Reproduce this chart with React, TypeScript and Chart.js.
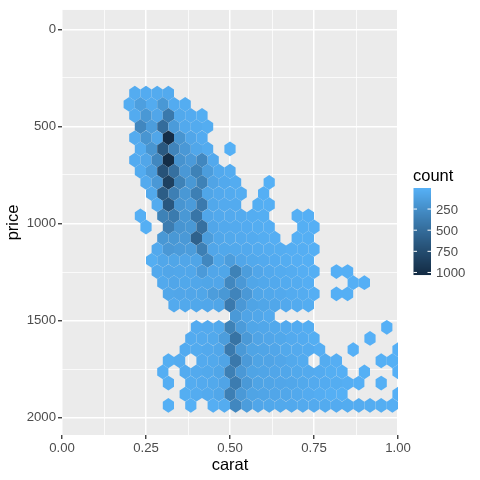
import React, { useEffect, useRef } from "react";
import { Chart, registerables } from "chart.js";

Chart.register(...registerables);

// ---- axis ticks ----
const xMajorTicks = [0, 0.25, 0.5, 0.75, 1];
const xMinorTicks = [0.125, 0.375, 0.625, 0.875];
const yMajorTicks = [0, 500, 1000, 1500, 2000];
const yMinorTicks = [250, 750, 1250, 1750];
const legendTicks = [250, 500, 750, 1000];

// ---- hex bin grid (carat bin width 1/30, rows of price bins) ----
const BIN_W = 1 / 30;
const ROW0_PRICE = 329;
const ROW_STEP = 57.4;

// first half-column index (carat = h/60) of each price row
const rowStart = [13, 12, 13, 14, 13, 14, 13, 14, 15, 16, 17, 14, 15, 18, 17, 16, 17, 18, 19, 20, 31, 24, 23, 22, 19, 18, 19, 22, 19];

// counts per row, one entry per hex column (0 = empty)
const rowCounts: number[][] = [
  [35, 40, 45, 50],
  [30, 126, 45, 180, 40, 30],
  [45, 180, 75, 405, 60, 40, 25],
  [300, 140, 500, 155, 55, 45, 30],
  [45, 200, 75, 1000, 200, 75, 40],
  [45, 200, 650, 320, 175, 70, 45, 0, 10],
  [40, 75, 300, 1010, 210, 160, 300, 55],
  [45, 155, 700, 470, 175, 340, 140, 55, 35],
  [50, 175, 850, 340, 180, 340, 90, 55, 35, 0, 0, 10],
  [60, 620, 360, 180, 360, 80, 55, 45, 30, 0, 15],
  [45, 660, 200, 155, 400, 65, 50, 45, 0, 25, 15],
  [15, 0, 340, 390, 180, 430, 75, 55, 50, 45, 30, 25, 0, 0, 15, 12],
  [15, 0, 380, 200, 180, 470, 75, 55, 50, 40, 30, 22, 0, 0, 18, 12],
  [180, 180, 170, 580, 140, 70, 60, 50, 45, 30, 22, 0, 18, 18],
  [55, 175, 155, 140, 360, 75, 65, 60, 55, 45, 35, 30, 22, 20, 15],
  [25, 70, 80, 75, 85, 300, 80, 140, 75, 60, 50, 40, 30, 22, 15],
  [55, 75, 70, 70, 160, 75, 80, 340, 140, 75, 55, 45, 35, 22, 15, 0, 12, 12],
  [55, 75, 65, 70, 80, 75, 300, 175, 80, 65, 55, 45, 35, 20, 0, 0, 0, 12, 12],
  [70, 75, 75, 80, 140, 180, 320, 175, 80, 65, 55, 45, 35, 22, 0, 12, 15],
  [50, 60, 65, 70, 80, 400, 175, 95, 80, 70, 55, 45, 30],
  [170, 90, 70, 50],
  [40, 50, 60, 340, 155, 80, 70, 60, 50, 40, 30, 0, 0, 0, 0, 0, 0, 8],
  [40, 50, 60, 140, 450, 170, 90, 75, 65, 50, 40, 25, 0, 0, 0, 0, 8],
  [40, 45, 55, 70, 400, 170, 95, 85, 75, 60, 50, 40, 20, 0, 0, 8, 0, 0, 0, 8],
  [25, 35, 0, 50, 60, 90, 410, 160, 95, 90, 75, 60, 45, 0, 35, 20, 0, 0, 0, 10, 10],
  [20, 0, 40, 50, 60, 80, 360, 175, 95, 85, 75, 70, 60, 50, 40, 25, 15, 0, 10, 0, 0, 8],
  [20, 0, 35, 50, 60, 90, 380, 170, 95, 85, 75, 70, 60, 50, 40, 30, 20, 12, 0, 10],
  [25, 35, 50, 70, 360, 170, 95, 85, 75, 70, 55, 40, 28, 18, 10, 0, 0, 0, 0, 8],
  [10, 0, 10, 0, 20, 35, 300, 140, 75, 65, 60, 55, 50, 48, 45, 40, 38, 35, 30, 25, 22],
];

const COUNT_MIN = 1;
const COUNT_MAX = 1030;
const LOW_COL = "#56B1F7";
const HIGH_COL = "#132B43";

// ---- colour (Lab interpolation like ggplot) ----
function hexToRgb(h: string): number[] {
  return [parseInt(h.slice(1, 3), 16), parseInt(h.slice(3, 5), 16), parseInt(h.slice(5, 7), 16)];
}
function toLin(c: number) {
  c /= 255;
  return c <= 0.04045 ? c / 12.92 : Math.pow((c + 0.055) / 1.055, 2.4);
}
function fromLin(c: number) {
  const v = c <= 0.0031308 ? 12.92 * c : 1.055 * Math.pow(c, 1 / 2.4) - 0.055;
  return Math.round(Math.min(1, Math.max(0, v)) * 255);
}
const XN = 0.95047, YN = 1.0, ZN = 1.08883;
function rgbToLab(rgb: number[]): number[] {
  const R = toLin(rgb[0]), G = toLin(rgb[1]), B = toLin(rgb[2]);
  const X = (0.4124564 * R + 0.3575761 * G + 0.1804375 * B) / XN;
  const Y = (0.2126729 * R + 0.7151522 * G + 0.072175 * B) / YN;
  const Z = (0.0193339 * R + 0.119192 * G + 0.9503041 * B) / ZN;
  const f = (t: number) => (t > 0.008856 ? Math.cbrt(t) : 7.787 * t + 16 / 116);
  const fx = f(X), fy = f(Y), fz = f(Z);
  return [116 * fy - 16, 500 * (fx - fy), 200 * (fy - fz)];
}
function labToRgb(lab: number[]): number[] {
  const fy = (lab[0] + 16) / 116;
  const fx = fy + lab[1] / 500;
  const fz = fy - lab[2] / 200;
  const inv = (t: number) => (t * t * t > 0.008856 ? t * t * t : (t - 16 / 116) / 7.787);
  const X = inv(fx) * XN, Y = inv(fy) * YN, Z = inv(fz) * ZN;
  const R = 3.2404542 * X - 1.5371385 * Y - 0.4985314 * Z;
  const G = -0.969266 * X + 1.8760108 * Y + 0.041556 * Z;
  const B = 0.0556434 * X - 0.2040259 * Y + 1.0572252 * Z;
  return [fromLin(R), fromLin(G), fromLin(B)];
}
const LAB_LOW = rgbToLab(hexToRgb(LOW_COL));
const LAB_HIGH = rgbToLab(hexToRgb(HIGH_COL));
function countColor(c: number): string {
  const t = Math.min(1, Math.max(0, (c - COUNT_MIN) / (COUNT_MAX - COUNT_MIN)));
  const lab = [0, 1, 2].map((i) => LAB_LOW[i] + (LAB_HIGH[i] - LAB_LOW[i]) * t);
  const rgb = labToRgb(lab);
  return `rgb(${rgb[0]},${rgb[1]},${rgb[2]})`;
}

// ---- build points ----
type HexPt = { x: number; y: number; c: number };
function buildPoints(): HexPt[] {
  const pts: HexPt[] = [];
  rowCounts.forEach((row, k) => {
    row.forEach((c, i) => {
      if (c > 0) {
        const h = rowStart[k] + 2 * i;
        pts.push({ x: (h * BIN_W) / 2, y: ROW0_PRICE + ROW_STEP * k, c });
      }
    });
  });
  return pts;
}

const FONT = "'Liberation Sans', Arial, Helvetica, sans-serif";
const TICK_SIZE = 13.2;
const TITLE_SIZE = 16.5;

const bgPlugin = {
  id: "panelBg",
  beforeDraw(chart: any) {
    const { ctx, chartArea } = chart;
    ctx.save();
    ctx.fillStyle = "#FFFFFF";
    ctx.fillRect(0, 0, chart.width, chart.height);
    ctx.fillStyle = "#EBEBEB";
    ctx.fillRect(chartArea.left, chartArea.top, chartArea.right - chartArea.left, chartArea.bottom - chartArea.top);
    ctx.restore();
  },
};

const hexPlugin = {
  id: "hexes",
  beforeDatasetsDraw(chart: any) {
    const { ctx, chartArea } = chart;
    const xs = chart.scales.x;
    const ys = chart.scales.y;
    const dx = BIN_W / 2;
    const dy = (ROW_STEP / Math.sqrt(3) / 2) * 1.15;
    const offs = [
      [dx, dy],
      [0, 2 * dy],
      [-dx, dy],
      [-dx, -dy],
      [0, -2 * dy],
      [dx, -dy],
    ];
    ctx.save();
    ctx.beginPath();
    ctx.rect(chartArea.left, chartArea.top, chartArea.right - chartArea.left, chartArea.bottom - chartArea.top);
    ctx.clip();
    const pts: HexPt[] = chart.data.datasets[0].data;
    for (const p of pts) {
      ctx.beginPath();
      offs.forEach(([ox, oy], i) => {
        const px = xs.getPixelForValue(p.x + ox);
        const py = ys.getPixelForValue(p.y + oy);
        if (i === 0) ctx.moveTo(px, py);
        else ctx.lineTo(px, py);
      });
      ctx.closePath();
      ctx.fillStyle = countColor(p.c);
      ctx.fill();
    }
    ctx.restore();
  },
};

const legendPlugin = {
  id: "colourbar",
  afterDraw(chart: any) {
    const { ctx } = chart;
    const barLeft = 413.5;
    const barW = 17.5;
    const barTop = 188;
    const barH = 87;
    ctx.save();
    ctx.fillStyle = "#000000";
    ctx.font = `${TITLE_SIZE}px ${FONT}`;
    ctx.textAlign = "left";
    ctx.textBaseline = "middle";
    ctx.fillText("count", 413, 176);
    for (let i = 0; i < barH; i++) {
      const c = COUNT_MIN + ((i + 0.5) / barH) * (COUNT_MAX - COUNT_MIN);
      ctx.fillStyle = countColor(c);
      ctx.fillRect(barLeft, barTop + i, barW, 1.05);
    }
    ctx.strokeStyle = "#FFFFFF";
    ctx.lineWidth = 1;
    ctx.font = `${TICK_SIZE}px ${FONT}`;
    ctx.fillStyle = "#4D4D4D";
    for (const v of legendTicks) {
      const yy = barTop + ((v - COUNT_MIN) / (COUNT_MAX - COUNT_MIN)) * barH;
      ctx.beginPath();
      ctx.moveTo(barLeft, yy);
      ctx.lineTo(barLeft + barW / 5, yy);
      ctx.moveTo(barLeft + barW, yy);
      ctx.lineTo(barLeft + barW - barW / 5, yy);
      ctx.stroke();
      ctx.fillText(String(v), 436, yy + 1);
    }
    ctx.restore();
  },
};

const isMajorX = (v: number) => Math.abs(v * 4 - Math.round(v * 4)) < 1e-6;
const isMajorY = (v: number) => Math.abs(v / 500 - Math.round(v / 500)) < 1e-6;

export default function App() {
  const ref = useRef<HTMLCanvasElement | null>(null);
  useEffect(() => {
    if (!ref.current) return;
    const chart = new Chart(ref.current, {
      type: "scatter",
      data: {
        datasets: [
          {
            data: buildPoints(),
            pointRadius: 0,
            pointHoverRadius: 0,
          } as any,
        ],
      },
      plugins: [bgPlugin, hexPlugin, legendPlugin],
      options: {
        responsive: false,
        animation: false,
        devicePixelRatio: 1,
        events: [],
        layout: { padding: { left: 0, top: 5, right: 82, bottom: 0 } },
        plugins: { legend: { display: false }, tooltip: { enabled: false } },
        scales: {
          x: {
            type: "linear",
            min: 0,
            max: 1,
            afterBuildTicks: (s: any) => {
              s.ticks = [...xMajorTicks, ...xMinorTicks].sort((a, b) => a - b).map((v) => ({ value: v }));
            },
            afterFit: (s: any) => {
              s.height = 45;
            },
            border: { display: false },
            grid: {
              color: "#FFFFFF",
              lineWidth: (c: any) => (isMajorX(c.tick.value) ? 1.5 : 0.75),
              drawTicks: true,
              tickLength: 4,
              tickWidth: 1.3,
              tickColor: (c: any) => (isMajorX(c.tick.value) ? "#333333" : "rgba(0,0,0,0)"),
            },
            ticks: {
              autoSkip: false,
              maxRotation: 0,
              padding: 1,
              color: "#4D4D4D",
              font: { family: FONT, size: TICK_SIZE },
              callback: (v: any) => (isMajorX(Number(v)) ? Number(v).toFixed(2) : ""),
            },
            title: {
              display: true,
              text: "carat",
              color: "#000000",
              font: { family: FONT, size: TITLE_SIZE },
              padding: { top: 0, bottom: 5 },
            },
          },
          y: {
            type: "linear",
            reverse: true,
            min: -100,
            max: 2089,
            afterBuildTicks: (s: any) => {
              s.ticks = [...yMajorTicks, ...yMinorTicks].sort((a, b) => a - b).map((v) => ({ value: v }));
            },
            afterFit: (s: any) => {
              s.width = 62;
            },
            border: { display: false },
            grid: {
              color: "#FFFFFF",
              lineWidth: (c: any) => (isMajorY(c.tick.value) ? 1.5 : 0.75),
              drawTicks: true,
              tickLength: 4,
              tickWidth: 1.3,
              tickColor: (c: any) => (isMajorY(c.tick.value) ? "#333333" : "rgba(0,0,0,0)"),
            },
            ticks: {
              autoSkip: false,
              padding: 2,
              color: "#4D4D4D",
              font: { family: FONT, size: TICK_SIZE },
              callback: (v: any) => (isMajorY(Number(v)) ? String(v) : ""),
            },
            title: {
              display: true,
              text: "price",
              color: "#000000",
              font: { family: FONT, size: TITLE_SIZE },
              padding: { top: 4, bottom: 0 },
            },
          },
        },
      } as any,
    });
    return () => chart.destroy();
  }, []);
  return (
    <div style={{ position: "absolute", left: 0, top: 0, width: 480, height: 480, background: "#fff" }}>
      <canvas ref={ref} width={480} height={480} style={{ display: "block" }} />
    </div>
  );
}
